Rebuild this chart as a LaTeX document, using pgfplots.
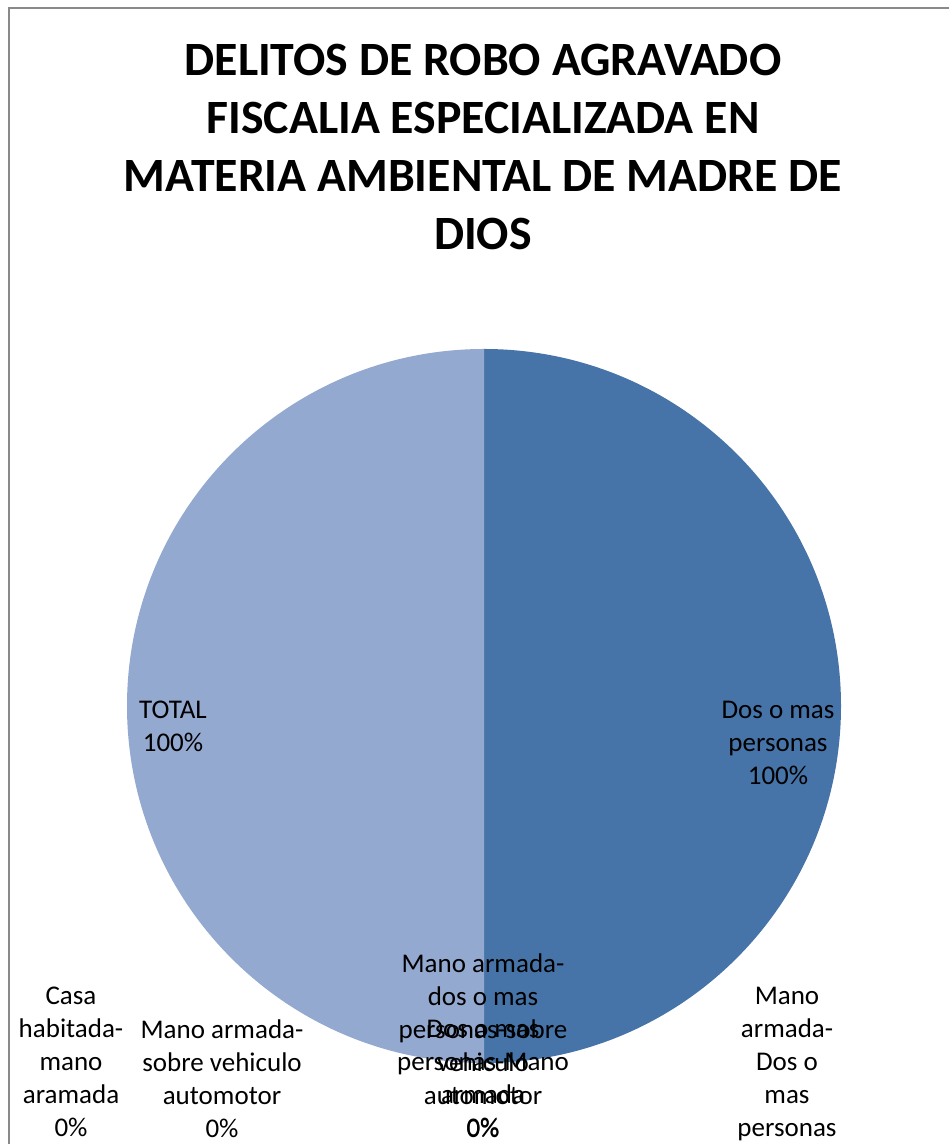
\documentclass[border=0pt]{standalone}
\usepackage{fontspec}
\setmainfont{Carlito}
\usepackage{pgfplots}
\usepackage{pgfplotstable}
\pgfplotsset{compat=1.18}

\definecolor{pieDark}{HTML}{4674A8}
\definecolor{pieLight}{HTML}{94A9D0}
\definecolor{frameGray}{HTML}{898989}

% slices in Excel order, clockwise from 12 o'clock
\pgfplotstableread[col sep=comma]{
name,value,col
Casa habitada-mano aramada,0,pieDark
Mano armada-sobre vehiculo automotor,0,pieDark
Mano armada-dos o mas personas-sobre vehiculo automotor,0,pieDark
Dos o mas personas-Mano armada,0,pieDark
Mano armada-Dos o mas personas,0,pieDark
Dos o mas personas,1,pieDark
TOTAL,1,pieLight
}\pietable

\begin{document}
\begin{tikzpicture}
\begin{axis}[
    scale only axis,
    width=474.5pt, height=572pt,
    xmin=0, xmax=949, ymin=0, ymax=1144,
    hide axis, clip=true,
    ]
    % full canvas, so the picture keeps the chart's extent
    \path (axis cs:0,0) rectangle (axis cs:949,1144);
    % frame
    \draw[frameGray, line width=1pt] (axis cs:9,0) -- (axis cs:9,1136) -- (axis cs:949,1136);

    % pie slices from the table
    \pgfplotstablegetrowsof{\pietable}
    \pgfmathtruncatemacro\nlast{\pgfplotsretval-1}
    \def\pietotal{0}
    \pgfplotsforeachungrouped \k in {0,...,\nlast}{%
        \pgfplotstablegetelem{\k}{value}\of\pietable
        \pgfmathsetmacro\pietotal{\pietotal+\pgfplotsretval}}
    \def\piecum{0}
    \pgfplotsforeachungrouped \k in {0,...,\nlast}{%
        \pgfplotstablegetelem{\k}{value}\of\pietable \let\pieval\pgfplotsretval
        \pgfplotstablegetelem{\k}{col}\of\pietable \let\piecol\pgfplotsretval
        \pgfmathsetmacro\piestart{90-360*\piecum/\pietotal}
        \pgfmathsetmacro\pieend{90-360*(\piecum+\pieval)/\pietotal}
        \pgfmathsetmacro\piecum{\piecum+\pieval}
        \ifdim\pieval pt>0pt
            \edef\pietemp{\noexpand\fill[\piecol] (axis cs:484,438) -- ++(\piestart:178.5pt)
                arc[start angle=\piestart, end angle=\pieend, radius=178.5pt] -- cycle;}
            \pietemp
        \fi
    }

    % title
    \node[align=center, font=\fontsize{23.9}{29}\selectfont\bfseries, inner sep=0pt]
        at (axis cs:483,997) {DELITOS DE ROBO AGRAVADO\\FISCALIA ESPECIALIZADA EN\\MATERIA AMBIENTAL DE MADRE DE\\DIOS};

    % data labels
    \node[align=center, font=\fontsize{13.5}{16.5}\selectfont, inner sep=0pt] at (axis cs:173,417.5) {TOTAL\\100\%};
    \node[align=center, font=\fontsize{13.5}{16.5}\selectfont, inner sep=0pt] at (axis cs:778,401) {Dos o mas\\personas\\100\%};
    \node[align=center, font=\fontsize{13.5}{16.5}\selectfont, inner sep=0pt] at (axis cs:71,82) {Casa\\habitada-\\mano\\aramada\\0\%};
    \node[align=center, font=\fontsize{13.5}{16.5}\selectfont, inner sep=0pt] at (axis cs:222,65.5) {Mano armada-\\sobre vehiculo\\automotor\\0\%};
    \node[align=center, font=\fontsize{13.5}{16.5}\selectfont, inner sep=0pt] at (axis cs:483,98) {Mano armada-\\dos o mas\\personas-sobre\\vehiculo\\automotor\\0\%};
    \node[align=center, font=\fontsize{13.5}{16.5}\selectfont, inner sep=0pt] at (axis cs:483,65.5) {Dos o mas\\personas-Mano\\armada\\0\%};
    \node[align=center, font=\fontsize{13.5}{16.5}\selectfont, inner sep=0pt] at (axis cs:787,65.5) {Mano\\armada-\\Dos o\\mas\\personas\\0\%};
\end{axis}
\end{tikzpicture}
\end{document}
